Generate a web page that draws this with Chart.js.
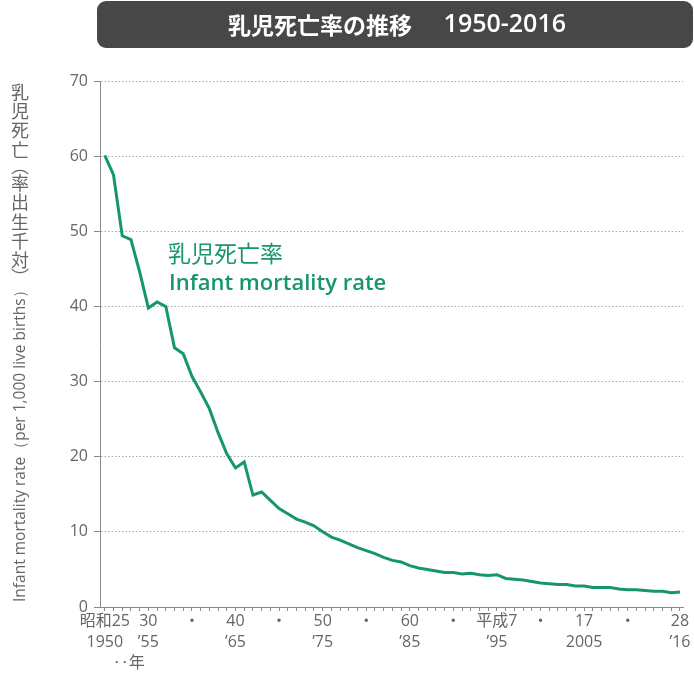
<!DOCTYPE html>
<html>
<head>
<meta charset="utf-8">
<script src="https://cdn.jsdelivr.net/npm/chart.js@4"></script>
<style>
  html, body { margin: 0; padding: 0; background: #ffffff; }
  #wrap { width: 694px; height: 673px; position: relative; }
</style>
</head>
<body>
<div id="wrap"><canvas id="c" width="694" height="673"></canvas></div>
<script>
// ---- data ----
const years = [];
for (let y = 1950; y <= 2016; y++) years.push(y);
const infantMortality = [
  60.1, 57.5, 49.4, 48.9, 44.6, 39.8, 40.6, 40.0, 34.5, 33.7,
  30.7, 28.6, 26.4, 23.2, 20.4, 18.5, 19.3, 14.9, 15.3, 14.2,
  13.1, 12.4, 11.7, 11.3, 10.8, 10.0, 9.3, 8.9, 8.4, 7.9,
  7.5, 7.1, 6.6, 6.2, 6.0, 5.5, 5.2, 5.0, 4.8, 4.6,
  4.6, 4.4, 4.5, 4.3, 4.2, 4.3, 3.8, 3.7, 3.6, 3.4,
  3.2, 3.1, 3.0, 3.0, 2.8, 2.8, 2.6, 2.6, 2.6, 2.4,
  2.3, 2.3, 2.2, 2.1, 2.1, 1.9, 2.0
];
const labelYears = [1950, 1955, 1960, 1965, 1970, 1975, 1980, 1985, 1990, 1995, 2000, 2005, 2010, 2016];
const labelRow1 = ['昭和25', '30', '・', '40', '・', '50', '・', '60', '・', '平成7', '・', '17', '・', '28'];
const labelRow2 = ['1950', '’55', '', '’65', '', '’75', '', '’85', '', '’95', '', '2005', '', '’16'];
const labelRow3 = ['\u3000\u3000\u3000‥年', '', '', '', '', '', '', '', '', '', '', '', '', ''];
const yTicks = [0, 10, 20, 30, 40, 50, 60, 70];

const titleJa = '乳児死亡率の推移';
const titleYears = '1950-2016';
const seriesLabelJa = '乳児死亡率';
const seriesLabelEn = 'Infant mortality rate';
const yTitleJa = ['乳', '児', '死', '亡', '︵', '率', '出', '生', '千', '対', '︶'];
const yTitleEn = 'Infant mortality rate（per 1,000 live births）';

const GREEN = '#17966e';
const GREY_TXT = '#666666';

const points = years.map((y, i) => ({ x: y, y: infantMortality[i] }));

const decorPlugin = {
  id: 'decor',
  beforeDraw(chart) {
    const ctx = chart.ctx;
    ctx.save();
    // title box
    ctx.fillStyle = '#474747';
    ctx.beginPath();
    ctx.roundRect(97, 1, 596, 47, 9);
    ctx.fill();
    ctx.fillStyle = '#ffffff';
    ctx.textBaseline = 'middle';
    ctx.font = 'bold 23px "Noto Sans CJK JP"';
    ctx.textAlign = 'left';
    ctx.fillText(titleJa, 228, 25);
    ctx.font = '600 25px "Open Sans"';
    ctx.textAlign = 'right';
    ctx.fillText(titleYears, 566, 25);
    ctx.restore();
  },
  afterDraw(chart) {
    const ctx = chart.ctx;
    ctx.save();
    // y-axis title: Japanese vertical
    ctx.fillStyle = GREY_TXT;
    ctx.font = '18px "Noto Sans CJK JP"';
    ctx.textAlign = 'center';
    ctx.textBaseline = 'middle';
    let yy = 92;
    yTitleJa.forEach(ch => {
      const half = (ch === '︵' || ch === '︶');
      if (half) {
        ctx.fillText(ch, 20, yy - 3);
        yy += 14;
      } else {
        ctx.fillText(ch, 20, yy);
        yy += 19.3;
      }
    });
    // English rotated
    ctx.translate(21, 602);
    ctx.rotate(-Math.PI / 2);
    ctx.font = '15.5px "Open Sans"';
    ctx.textAlign = 'left';
    ctx.fillText(yTitleEn, 0, 0);
    ctx.restore();

    // series label
    ctx.save();
    ctx.fillStyle = GREEN;
    ctx.textAlign = 'left';
    ctx.textBaseline = 'alphabetic';
    ctx.font = '23px "Noto Sans CJK JP"';
    ctx.fillText(seriesLabelJa, 168, 262);
    ctx.font = '600 22px "Open Sans"';
    ctx.fillText(seriesLabelEn, 169, 290);
    ctx.restore();
  }
};

new Chart(document.getElementById('c'), {
  type: 'line',
  data: {
    datasets: [{
      data: points,
      borderColor: GREEN,
      borderWidth: 3,
      pointRadius: 0,
      tension: 0,
      fill: false
    }]
  },
  options: {
    responsive: false,
    animation: false,
    layout: { padding: { top: 81, right: 11, left: 0, bottom: 0 } },
    plugins: { legend: { display: false }, tooltip: { enabled: false } },
    scales: {
      x: {
        type: 'linear',
        min: 1949.45,
        max: 2016.35,
        afterFit(scale) { scale.height = 66; },
        afterBuildTicks(scale) { scale.ticks = years.map(v => ({ value: v })); },
        grid: {
          drawOnChartArea: false,
          drawTicks: true,
          tickLength: 4,
          color: '#8a8a8a',
          lineWidth: 1
        },
        border: { display: true, color: '#8a8a8a', width: 1 },
        ticks: {
          autoSkip: false,
          maxRotation: 0,
          minRotation: 0,
          padding: 0,
          color: GREY_TXT,
          font: { family: '"Open Sans", "Noto Sans CJK JP"', size: 16, lineHeight: '21px' },
          callback(value) {
            const i = labelYears.indexOf(value);
            if (i < 0) return '';
            const lines = [labelRow1[i]];
            if (labelRow2[i]) lines.push(labelRow2[i]);
            if (labelRow3[i]) lines.push(labelRow3[i]);
            return lines;
          }
        }
      },
      y: {
        min: 0,
        max: 70,
        afterFit(scale) { scale.width = 100; },
        afterBuildTicks(scale) { scale.ticks = yTicks.map(v => ({ value: v })); },
        grid: {
          drawOnChartArea: true,
          drawTicks: true,
          tickLength: 6,
          color: '#a8a8a8',
          tickColor: '#8a8a8a',
          lineWidth: 1,
          tickBorderDash: []
        },
        border: { display: true, color: '#8a8a8a', width: 1, dash: [1.5, 2] },
        ticks: {
          padding: 6,
          color: GREY_TXT,
          font: { family: '"Open Sans"', size: 16 }
        }
      }
    }
  },
  plugins: [decorPlugin]
});
</script>
</body>
</html>
